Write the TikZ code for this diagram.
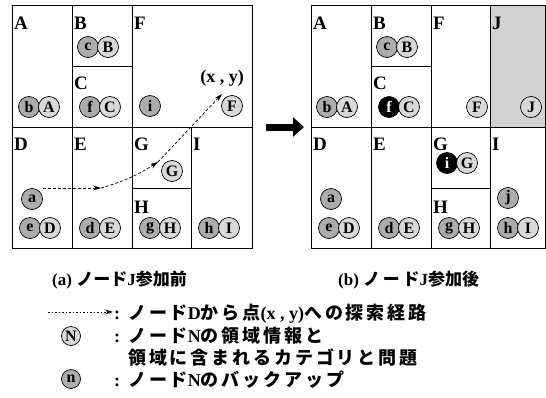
\documentclass[tikz,border=0pt]{standalone}
\usepackage{fontspec}
\setmainfont{Liberation Serif}
\newfontfamily\jp{Noto Sans CJK JP}
\newfontfamily\jpw{Noto Sans CJK JP}[LetterSpace=16]
\usetikzlibrary{arrows.meta}

\begin{document}
\begin{tikzpicture}[x=1pt,y=-1pt,every node/.style={inner sep=0pt,font=\bfseries},
  reg/.style={draw,circle,line width=0.7pt,minimum size=21pt,fill=gray!30,font=\fontsize{16}{16}\selectfont\bfseries},
  bak/.style={reg,fill=gray!65},
  newbak/.style={reg,fill=black,text=white},
  lbl/.style={anchor=base west,font=\fontsize{19}{19}\selectfont\bfseries},
  route/.style={line width=0.7pt,dash pattern=on 3pt off 2pt,-{Stealth[length=8pt,width=5pt]}},
  grid/.style={line width=0.8pt},
  txt/.style={anchor=base west,font=\fontsize{18}{18}\selectfont\bfseries}]

  \useasboundingbox (0,0) rectangle (546,397);

  % (a) before node J joins
  \draw[grid] (12,5) rectangle (252,248);
  \draw[grid] (72,5) -- (72,248) (132,5) -- (132,248) (191,127) -- (191,248);
  \draw[grid] (12,127) -- (252,127) (72,66) -- (132,66) (132,188) -- (191,188);

  \node[lbl] (lA0) at (14,29) {A};
  \node[lbl] (lB0) at (74,29) {B};
  \node[lbl] (lC0) at (74,89) {C};
  \node[lbl] (lF0) at (134,29) {F};
  \node[lbl] (lD0) at (14,150) {D};
  \node[lbl] (lE0) at (74,150) {E};
  \node[lbl] (lG0) at (134,150) {G};
  \node[lbl] (lH0) at (134,213) {H};
  \node[lbl] (lI0) at (193,150) {I};

  \node[bak] (b0) at (29,107) {b};
  \node[reg] (A0) at (49,107) {A};
  \node[bak] (c0) at (88,47) {c};
  \node[reg] (B0) at (108,47) {B};
  \node[bak] (f0) at (90,107) {f};
  \node[reg] (C0) at (110,107) {C};
  \node[bak] (i0) at (150,106) {i};
  \node[reg] (F0) at (232,106) {F};
  \node[bak] (a0) at (32,199) {a};
  \node[bak] (e0) at (30,228) {e};
  \node[reg] (D0) at (50,228) {D};
  \node[bak] (d0) at (90,228) {d};
  \node[reg] (E0) at (110,228) {E};
  \node[reg] (G0) at (172,171) {G};
  \node[bak] (g0) at (150,228) {g};
  \node[reg] (H0) at (170,228) {H};
  \node[bak] (h0) at (209,228) {h};
  \node[reg] (I0) at (229,228) {I};

  \node[font=\fontsize{18}{18}\selectfont\bfseries] (xy) at (222,78) {(x , y)};
  \coordinate (r0) at (43,188);
  \coordinate (r1) at (101,188);
  \coordinate (r2) at (158,162);
  \coordinate (r3) at (222,94);
  \draw[route] (r0) -- (r1);
  \draw[route] (r1) to[bend right=8] (r2);
  \draw[route] (r2) -- (r3);

  % arrow between the panels
  \coordinate (m0) at (266,127);
  \coordinate (m1) at (304,127);
  \draw[line width=7pt,-{Triangle[length=11pt,width=19pt]}] (m0) -- (m1);

  % (b) after node J joins
  \fill[gray!35] (490,5) rectangle (546,127);
  \draw[grid] (311,5) rectangle (545,248);
  \draw[grid] (371,5) -- (371,248) (431,5) -- (431,248) (490,5) -- (490,248);
  \draw[grid] (311,127) -- (545,127) (371,66) -- (431,66) (431,188) -- (490,188);

  \node[lbl] (lA1) at (313,29) {A};
  \node[lbl] (lB1) at (373,29) {B};
  \node[lbl] (lC1) at (373,89) {C};
  \node[lbl] (lF1) at (433,29) {F};
  \node[lbl] (lJ1) at (492,29) {J};
  \node[lbl] (lD1) at (313,150) {D};
  \node[lbl] (lE1) at (373,150) {E};
  \node[lbl] (lG1) at (433,150) {G};
  \node[lbl] (lH1) at (433,213) {H};
  \node[lbl] (lI1) at (492,150) {I};

  \node[bak] (b1) at (327,107) {b};
  \node[reg] (A1) at (347,107) {A};
  \node[bak] (c1) at (387,47) {c};
  \node[reg] (B1) at (407,47) {B};
  \node[newbak] (f1) at (389,107) {f};
  \node[reg] (C1) at (409,107) {C};
  \node[reg] (F1) at (477,107) {F};
  \node[reg] (J1) at (531,107) {J};
  \node[bak] (a1) at (331,199) {a};
  \node[bak] (e1) at (329,228) {e};
  \node[reg] (D1) at (349,228) {D};
  \node[bak] (d1) at (389,228) {d};
  \node[reg] (E1) at (409,228) {E};
  \node[newbak] (i1) at (447,163) {i};
  \node[reg] (G1) at (467,163) {G};
  \node[bak] (g1) at (449,228) {g};
  \node[reg] (H1) at (469,228) {H};
  \node[bak] (j1) at (508,198) {j};
  \node[bak] (h1) at (508,228) {h};
  \node[reg] (I1) at (528,228) {I};

  % captions
  \node[anchor=base west,font=\fontsize{17}{17}\selectfont\bfseries] (capa) at (52,285) {(a) {\jp ノード}J{\jp 参加前}};
  \node[anchor=base west,font=\fontsize{17}{17}\selectfont\bfseries] (capb) at (338,285) {(b) {\jpw ノード}J{\jp 参加後}};

  % legend
  \coordinate (k0) at (48,312);
  \coordinate (k1) at (113,312);
  \draw[route,dash pattern=on 1.5pt off 2pt] (k0) -- (k1);
  \node[reg,minimum size=19pt] (kN) at (71,336) {N};
  \node[bak,minimum size=19pt] (kn) at (71,379) {n};
  \node[txt] (s1) at (114,319) {:};
  \node[txt] (s2) at (114,342) {:};
  \node[txt] (s4) at (114,386) {:};
  \node[txt] (t1) at (128,319) {{\jpw ノード}D{\jpw から点}(x , y){\jpw への探索経路}};
  \node[txt] (t2) at (128,342) {{\jpw ノード}N{\jpw の領域情報と}};
  \node[txt] (t3) at (128,364) {{\jpw 領域に含まれるカテゴリと問題}};
  \node[txt] (t4) at (128,386) {{\jpw ノード}N{\jpw のバックアップ}};

\end{tikzpicture}
\end{document}
